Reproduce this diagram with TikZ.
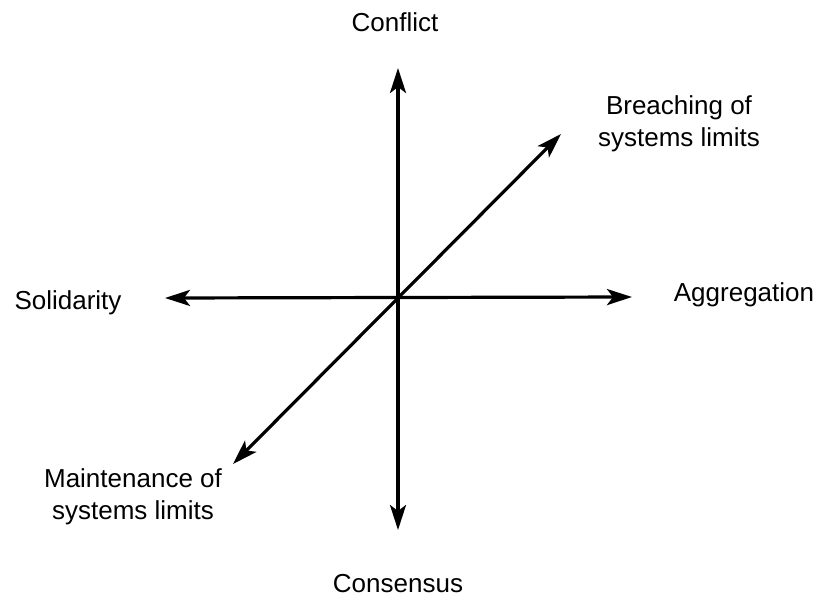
\documentclass[tikz,border=0pt]{standalone}
\usepackage{fontspec}
\setmainfont{Liberation Sans}
\usetikzlibrary{arrows.meta}

\begin{document}
\begin{tikzpicture}[x=1pt, y=-1pt,
        axis/.style={line width=3.2pt, {Stealth[length=25pt,width=16pt,inset=6pt]}-{Stealth[length=25pt,width=16pt,inset=6pt]}},
        lbl/.style={font=\fontsize{26}{32}\selectfont, align=center, inner sep=0pt}]
        \useasboundingbox (0, 0) rectangle (819, 600);

        % axis ends
        \coordinate (top) at (398, 68);
        \coordinate (bottom) at (398, 530);
        \coordinate (left) at (165, 298);
        \coordinate (right) at (632, 297);
        \coordinate (upright) at (561, 134);
        \coordinate (downleft) at (233, 464);

        \draw[axis] (bottom) -- (top);
        \draw[axis] (left) -- (right);
        \draw[axis] (downleft) -- (upright);

        % labels
        \node[lbl] (conflict) at (395, 22) {Conflict};
        \node[lbl] (consensus) at (398, 584) {Consensus};
        \node[lbl] (solidarity) at (68, 303) {Solidarity};
        \node[lbl] (aggregation) at (744, 295) {Aggregation};
        \node[lbl] (breaching) at (679, 124) {Breaching of\\systems limits};
        \node[lbl] (maintenance) at (133, 497) {Maintenance of\\systems limits};
    \end{tikzpicture}
\end{document}
